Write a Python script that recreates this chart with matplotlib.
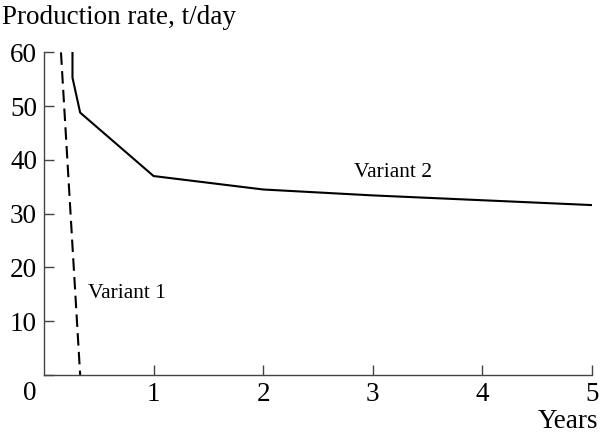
import matplotlib.pyplot as plt

plt.rcParams['font.family'] = ['Liberation Serif', 'DejaVu Serif']

# Variant 1: fast decline
v1_years = [0.155, 0.33]
v1_rate = [60, 0]

# Variant 2: long-term production
v2_years = [0.26, 0.26, 0.33, 1, 2, 3, 4, 5]
v2_rate = [60, 55.3, 48.8, 37.0, 34.5, 33.4, 32.5, 31.6]

x_ticks = [1, 2, 3, 4, 5]
y_ticks = [0, 10, 20, 30, 40, 50, 60]
y_labels = ['', '10', '20', '30', '40', '50', '60']

fig = plt.figure(figsize=(6, 4.33), dpi=100)
ax = fig.add_axes([0.0733, 0.134, 0.9134, 0.745])

ax.plot(v1_years, v1_rate, color='black', lw=1.5, dashes=(6, 3))
ax.plot(v2_years, v2_rate, color='black', lw=1.5)

ax.set_xlim(0, 5)
ax.set_ylim(0, 60)
ax.set_xticks(x_ticks)
ax.set_yticks(y_ticks)
ax.set_yticklabels(y_labels)
ax.tick_params(direction='in', length=7, width=1, color='#444444',
               labelsize=19.5, pad=5)

for side in ['top', 'right']:
    ax.spines[side].set_visible(False)
for side in ['left', 'bottom']:
    ax.spines[side].set_color('#444444')
    ax.spines[side].set_linewidth(1)

fig.text(30 / 600, 1 - 393 / 433, '0', fontsize=19.5, ha='center', va='center')
fig.text(2 / 600, 1 - 18 / 433, 'Production rate, t/day', fontsize=19.5,
         ha='left', va='center')
fig.text(598 / 600, 1 - 421 / 433, 'Years', fontsize=19.5, ha='right', va='center')

ax.text(3.18, 37.7, 'Variant 2', fontsize=15.5, ha='center', va='center')
ax.text(0.76, 15.1, 'Variant 1', fontsize=15.5, ha='center', va='center')

fig.savefig('out.png', dpi=100)
